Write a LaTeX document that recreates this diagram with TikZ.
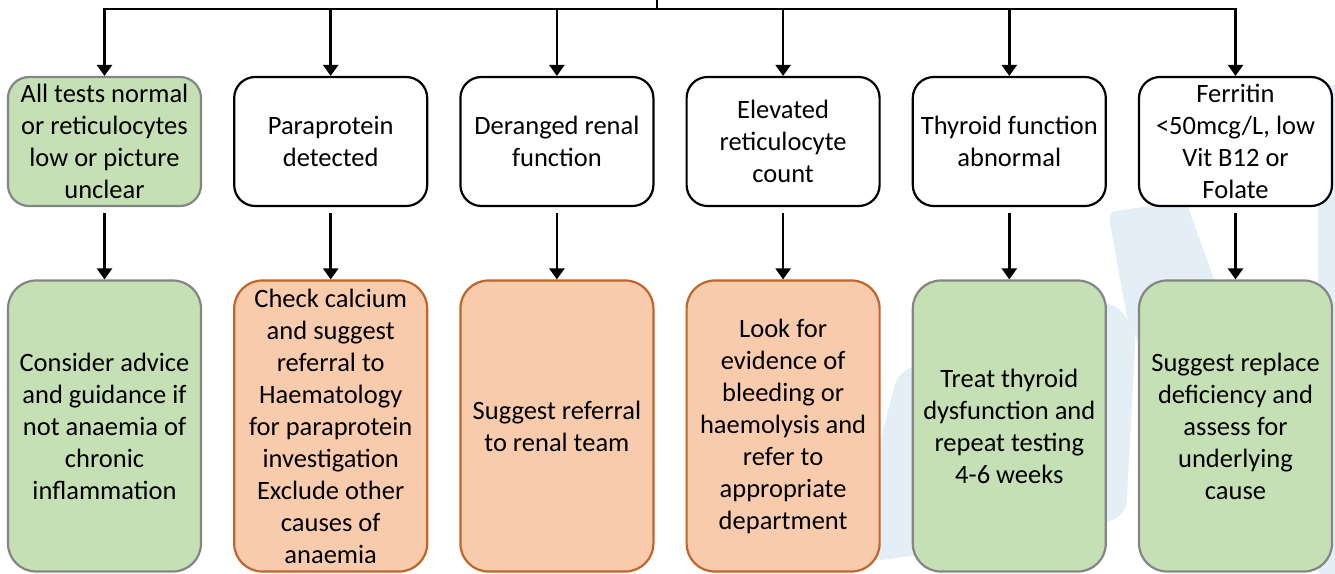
\documentclass[tikz,border=0pt]{standalone}
\usepackage{fontspec}
\setmainfont{Carlito}
\usetikzlibrary{arrows.meta}
\definecolor{okfill}{HTML}{C5E0B4}
\definecolor{okline}{HTML}{858585}
\definecolor{warnfill}{HTML}{F8CBAD}
\definecolor{warnline}{HTML}{C0662A}
\definecolor{markblue}{HTML}{E4EEF7}
\tikzset{
  box/.style={rectangle, align=center, inner sep=0pt, line width=2.2pt,
    font=\fontsize{26.5}{32}\selectfont, text=black},
  testbox/.style={box, draw=black, fill=white, rounded corners=21pt,
    minimum width=193pt, minimum height=129pt},
  testok/.style={testbox, draw=okline, fill=okfill},
  actok/.style={box, draw=okline, fill=okfill, rounded corners=28pt,
    minimum width=193pt, minimum height=291pt},
  actwarn/.style={actok, draw=warnline, fill=warnfill},
  flow/.style={line width=2.5pt, -{Triangle[width=15pt,length=11pt]}}
}
\begin{document}
\begin{tikzpicture}[x=1pt, y=-1pt]
\useasboundingbox (0,0) rectangle (1335,573);

% faint logo shapes in the background
\fill[markblue, rounded corners=8pt]
  (1108,212) -- (1186,201) -- (1250,380) -- (1185,425) -- (1128,323) -- cycle;
\fill[markblue, rounded corners=14pt]
  (898,372) -- (1112,300) -- (1136,330) -- (1126,515) -- (1080,532)
  -- (868,562) -- (878,450) -- cycle;
\fill[markblue, rounded corners=6pt] (1318,85) rectangle (1345,600);

% first row: test results
\node[testok]  (t1) at (104.5,141.5) {All tests normal\\or reticulocytes\\low or picture\\unclear};
\node[testbox] (t2) at (330.7,141.5) {Paraprotein\\detected};
\node[testbox] (t3) at (556.9,141.5) {Deranged renal\\function};
\node[testbox] (t4) at (783.1,141.5) {Elevated\\reticulocyte\\count};
\node[testbox] (t5) at (1009.3,141.5) {Thyroid function\\abnormal};
\node[testbox] (t6) at (1235.5,141.5) {Ferritin\\<50mcg/L, low\\Vit B12 or\\Folate};

% second row: actions
\node[actok]   (b1) at (104.5,426) {Consider advice\\and guidance if\\not anaemia of\\chronic\\inflammation};
\node[actwarn] (b2) at (330.7,426) {Check calcium\\and suggest\\referral to\\Haematology\\for paraprotein\\investigation\\Exclude other\\causes of\\anaemia};
\node[actwarn] (b3) at (556.9,426) {Suggest referral\\to renal team};
\node[actwarn] (b4) at (783.1,426) {Look for\\evidence of\\bleeding or\\haemolysis and\\refer to\\appropriate\\department};
\node[actok]   (b5) at (1009.3,426) {Treat thyroid\\dysfunction and\\repeat testing\\4-6 weeks};
\node[actok]   (b6) at (1235.5,426) {Suggest replace\\deficiency and\\assess for\\underlying\\cause};

% distribution bus from the top
\coordinate (src) at (657,0);
\foreach \i in {1,...,6} {
  \draw[flow] (src) -- ++(0,9) -| (t\i.north);
  \draw[flow] ([yshift=-6pt]t\i.south) -- (b\i.north);
}
\end{tikzpicture}
\end{document}
